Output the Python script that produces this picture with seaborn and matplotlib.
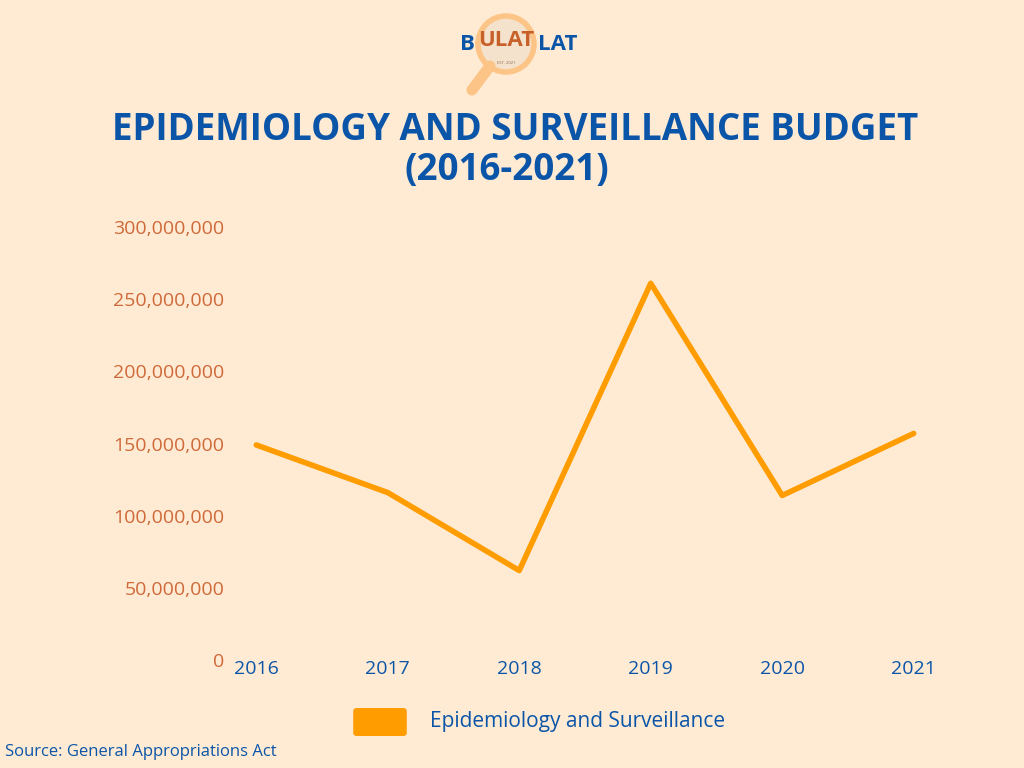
import matplotlib
matplotlib.use('Agg')
import matplotlib.pyplot as plt
import seaborn as sns
import pandas as pd
from matplotlib.patches import Ellipse, FancyBboxPatch
from matplotlib.lines import Line2D

years = ['2016', '2017', '2018', '2019', '2020', '2021']
budget = [149000000, 116000000, 62000000, 261000000, 114000000, 157000000]
yticks = [0, 50000000, 100000000, 150000000, 200000000, 250000000, 300000000]

bg = '#ffebd4'
orange = '#ff9c00'
blue = '#0b55a8'
tickc = '#cf6a3a'

sns.set_style('white')
plt.rcParams['font.family'] = ['Open Sans', 'DejaVu Sans']

df = pd.DataFrame({'year': years, 'budget': budget})
df['pos'] = range(len(years))

fig = plt.figure(figsize=(10.24, 7.68), dpi=100, facecolor=bg)
ax = fig.add_axes([230/1024, 0.1406, 710/1024, 0.5638])
ax.set_facecolor(bg)
sns.lineplot(data=df, x='pos', y='budget', color=orange, linewidth=4, ax=ax)
ax.set_xlim(-0.2, 5.2)
ax.set_ylim(0, 300000000)
ax.set_xticks(range(len(years)))
ax.set_xticklabels(years, color=blue, fontsize=14)
ax.set_yticks(yticks)
ax.set_yticklabels([f'{v:,}' if v else '0' for v in yticks], color=tickc, fontsize=14)
ax.tick_params(axis='x', length=0, pad=0)
ax.tick_params(axis='y', length=0, pad=4)
ax.set_xlabel('')
ax.set_ylabel('')
for s in ax.spines.values():
    s.set_visible(False)

fig.text(0.503, 0.831, 'EPIDEMIOLOGY AND SURVEILLANCE BUDGET', ha='center', va='center',
         color=blue, fontsize=26.5, fontweight='bold')
fig.text(0.495, 0.779, '(2016-2021)', ha='center', va='center',
         color=blue, fontsize=26.5, fontweight='bold')

# legend
fig.patches.append(FancyBboxPatch((357/1024, 1 - 733/768), 46/1024, 22/768, boxstyle='round,pad=0.003',
                                  transform=fig.transFigure, color=orange))
fig.text(430/1024, 1 - 721/768, 'Epidemiology and Surveillance', color=blue, fontsize=15, va='center')
fig.text(5/1024, 1 - 752/768, 'Source: General Appropriations Act', color=blue, fontsize=12, va='center')

# logo
fig.lines.append(Line2D([472/1024, 490/1024], [1 - 90/768, 1 - 66/768], transform=fig.transFigure,
                        color='#fcc587', linewidth=8, solid_capstyle='round'))
lx, ly = 506/1024, 1 - 44/768
fig.patches.append(Ellipse((lx, ly), 56/1024, 56/768, transform=fig.transFigure, facecolor='#f5e2cc',
                           edgecolor='#fcc587', linewidth=4))
fig.text(467/1024, ly, 'B', color=blue, fontsize=16, fontweight='bold', ha='center', va='center')
fig.text(lx, ly + 0.004, 'ULAT', color='#c8602a', fontsize=16, fontweight='bold', ha='center', va='center')
fig.text(lx, ly - 0.025, 'EST. 2021', color='#8a6a50', fontsize=3, ha='center', va='center')
fig.text(558/1024, ly, 'LAT', color=blue, fontsize=16, fontweight='bold', ha='center', va='center')

fig.savefig('out.png', dpi=100, facecolor=bg)
